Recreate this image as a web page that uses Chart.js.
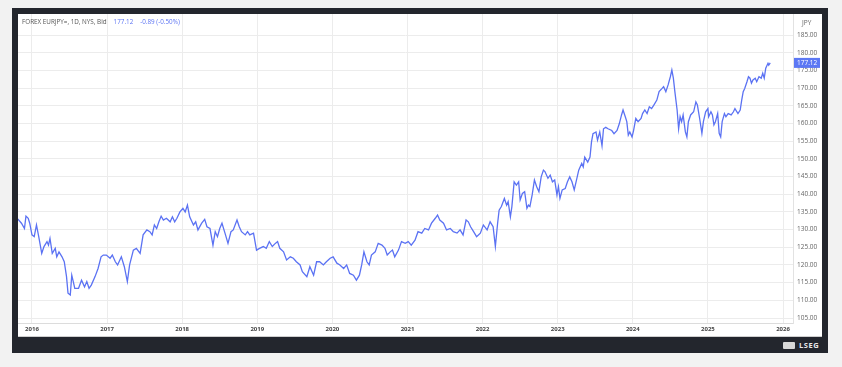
<!DOCTYPE html>
<html><head><meta charset="utf-8">
<script src="https://cdn.jsdelivr.net/npm/chart.js@4"></script>
<style>
html,body{margin:0;padding:0;background:#f2f2f2;width:842px;height:367px;overflow:hidden;font-family:"Open Sans","Noto Sans",sans-serif}
#frame{position:absolute;left:12px;top:8px;width:816px;height:345px;background:#23262d}
#panel{position:absolute;left:18px;top:14px;width:804px;height:322px;background:#fff;border-bottom:1px solid #cfcfcf}
#cv{position:absolute;left:18px;top:14px}
#hdr{position:absolute;left:22px;top:17px;font-size:6.3px;color:#555;white-space:nowrap;line-height:9px}
#hdr .b{color:#5b73f3;margin-left:7px}
#logo{position:absolute;left:783px;top:340px;height:10px;white-space:nowrap;color:#e8e8e8;font-size:7.5px;font-weight:bold;letter-spacing:0.6px;line-height:10px}
#logo .ic{display:inline-block;width:12px;height:7px;background:#d8d8d8;margin-right:4px;vertical-align:-1px;border-radius:1px}
</style></head>
<body>
<div id="frame"></div>
<div id="panel"></div>
<canvas id="cv" width="805" height="322"></canvas>
<div id="hdr">FOREX EURJPY=, 1D, NYS, Bid<span class="b">177.12</span><span class="b">-0.89 (-0.50%)</span></div>
<div id="logo"><span class="ic"></span>LSEG</div>
<script>
const years = [
2015.81,2015.86,2015.90,2015.92,2015.95,2015.97,2016.00,2016.03,2016.06,2016.09,
2016.13,2016.16,2016.20,2016.22,2016.24,2016.27,2016.31,2016.33,2016.36,2016.40,
2016.43,2016.46,2016.48,2016.51,2016.53,2016.55,2016.57,2016.62,2016.66,2016.70,
2016.73,2016.76,2016.79,2016.84,2016.88,2016.92,2016.95,2016.99,2017.04,2017.07,
2017.11,2017.14,2017.19,2017.23,2017.27,2017.30,2017.35,2017.39,2017.44,2017.48,
2017.53,2017.57,2017.60,2017.63,2017.66,2017.69,2017.72,2017.75,2017.79,2017.84,
2017.87,2017.90,2017.93,2017.97,2018.01,2018.04,2018.07,2018.10,2018.15,2018.18,
2018.21,2018.26,2018.30,2018.33,2018.37,2018.41,2018.44,2018.47,2018.50,2018.53,
2018.57,2018.61,2018.65,2018.68,2018.73,2018.76,2018.79,2018.84,2018.87,2018.90,
2018.95,2018.99,2019.03,2019.08,2019.12,2019.16,2019.20,2019.24,2019.27,2019.30,
2019.35,2019.39,2019.44,2019.48,2019.52,2019.57,2019.60,2019.66,2019.70,2019.75,
2019.79,2019.83,2019.88,2019.92,2019.97,2020.01,2020.06,2020.10,2020.15,2020.19,
2020.23,2020.28,2020.32,2020.36,2020.39,2020.42,2020.46,2020.49,2020.52,2020.57,
2020.61,2020.66,2020.70,2020.73,2020.77,2020.80,2020.83,2020.88,2020.92,2020.97,
2021.01,2021.05,2021.10,2021.14,2021.19,2021.23,2021.28,2021.32,2021.37,2021.40,
2021.43,2021.48,2021.52,2021.57,2021.61,2021.66,2021.70,2021.74,2021.78,2021.81,
2021.84,2021.88,2021.92,2021.97,2022.01,2022.06,2022.10,2022.14,2022.17,2022.20,
2022.22,2022.25,2022.29,2022.32,2022.34,2022.37,2022.39,2022.42,2022.45,2022.48,
2022.50,2022.53,2022.56,2022.59,2022.61,2022.63,2022.66,2022.69,2022.72,2022.75,
2022.78,2022.81,2022.83,2022.87,2022.90,2022.93,2022.96,2022.99,2023.01,2023.03,
2023.06,2023.10,2023.13,2023.16,2023.19,2023.22,2023.25,2023.28,2023.32,2023.34,
2023.36,2023.40,2023.43,2023.45,2023.47,2023.51,2023.53,2023.56,2023.59,2023.61,
2023.64,2023.67,2023.72,2023.75,2023.79,2023.82,2023.85,2023.87,2023.90,2023.92,
2023.94,2023.96,2023.99,2024.01,2024.04,2024.07,2024.11,2024.13,2024.16,2024.19,
2024.22,2024.25,2024.28,2024.32,2024.35,2024.39,2024.41,2024.44,2024.47,2024.50,
2024.52,2024.54,2024.56,2024.59,2024.61,2024.63,2024.65,2024.67,2024.70,2024.72,
2024.74,2024.77,2024.81,2024.84,2024.86,2024.89,2024.92,2024.94,2024.97,2025.00,
2025.01,2025.04,2025.06,2025.08,2025.10,2025.13,2025.15,2025.17,2025.19,2025.22,
2025.24,2025.27,2025.31,2025.34,2025.36,2025.40,2025.43,2025.45,2025.47,2025.49,
2025.52,2025.54,2025.56,2025.58,2025.60,2025.63,2025.65,2025.68,2025.71,2025.73,
2025.75,2025.77,2025.80,2025.81,2025.83
];
const rates = [
133.0,131.8,130.3,133.8,133.2,131.8,128.5,128.0,131.3,128.0,
123.3,125.2,126.6,125.6,127.5,123.3,124.7,122.3,123.7,122.3,
120.9,116.7,112.0,111.5,117.1,115.3,113.4,113.4,115.7,113.8,
115.3,113.4,114.3,116.7,119.0,122.3,122.8,122.8,121.9,122.8,
120.9,120.0,122.3,119.5,115.3,120.0,124.2,124.7,123.3,128.5,
129.9,129.4,128.5,131.3,130.3,132.2,133.8,132.7,133.2,132.2,
133.6,132.2,133.2,135.0,136.0,135.0,136.9,133.6,131.3,132.2,
129.9,131.8,132.9,130.8,130.3,125.6,129.4,128.0,130.3,131.8,
129.0,126.1,129.4,129.9,132.7,130.8,129.4,128.5,129.4,128.5,
129.0,124.2,124.7,125.2,124.7,126.6,125.2,126.1,126.6,124.7,
123.7,121.4,122.3,121.9,120.9,120.0,118.1,116.7,119.5,117.1,
120.9,120.9,120.0,120.9,121.9,122.3,120.5,120.0,119.0,120.0,
117.6,117.1,115.7,117.1,120.0,123.7,120.9,120.0,122.8,123.7,
126.1,125.6,124.7,122.8,123.7,124.2,122.3,124.2,126.6,126.1,
126.6,125.6,127.0,129.4,129.0,130.3,129.9,131.8,133.2,134.1,
132.7,131.8,129.9,130.3,129.4,129.0,129.9,128.5,132.7,132.2,
130.8,129.4,128.0,129.0,131.3,129.9,132.2,130.8,125.2,131.8,
135.5,136.5,138.8,136.9,137.9,133.6,136.5,143.5,142.6,143.5,
138.4,140.2,140.7,136.0,136.9,136.5,139.8,144.0,142.1,140.7,
144.9,146.8,146.4,144.5,145.4,143.5,144.0,139.8,142.1,138.8,
141.2,141.6,143.5,144.9,143.5,141.2,144.0,146.8,148.7,147.7,
150.5,149.1,150.5,154.8,157.1,157.6,155.3,157.6,153.7,158.5,
158.9,158.5,158.0,157.1,158.0,159.9,162.4,163.8,161.9,160.5,
156.7,157.6,156.2,158.0,161.4,160.5,161.4,162.8,163.8,162.8,
164.7,164.2,165.2,166.6,169.0,169.9,170.4,169.0,170.9,173.2,
175.1,172.8,169.0,163.8,158.5,161.9,160.5,162.4,157.6,156.2,
160.5,162.4,163.3,166.1,165.2,161.4,157.2,160.5,163.3,164.2,
161.9,163.3,162.4,159.6,160.5,162.8,157.2,156.2,160.5,162.8,
161.9,162.8,162.4,163.3,164.2,162.8,163.8,166.6,169.0,169.9,
171.8,173.2,172.8,171.4,172.3,172.8,171.8,173.2,172.8,174.2,
172.8,175.6,177.0,176.5,177.12
];
const yearTicks = [2016,2017,2018,2019,2020,2021,2022,2023,2024,2025,2026];
const priceTicks = [105,110,115,120,125,130,135,140,145,150,155,160,165,170,175,180,185];
const lastPrice = rates[rates.length-1];

const tagPlugin = {
  id:'tag',
  afterDraw(chart){
    const ctx = chart.ctx, a = chart.chartArea, ys = chart.scales.y;
    ctx.save();
    ctx.font = '6.5px "Open Sans", sans-serif';
    ctx.fillStyle = '#666';
    ctx.textAlign = 'left';
    ctx.textBaseline = 'middle';
    ctx.fillText('JPY', a.right + 9, 9);
    const py = ys.getPixelForValue(lastPrice);
    ctx.fillStyle = '#5c78f4';
    ctx.fillRect(a.right + 1, py - 5, 26, 10);
    ctx.fillStyle = '#ffffff';
    ctx.fillText(lastPrice.toFixed(2), a.right + 4, py + 0.5);
    ctx.restore();
  }
};

new Chart(document.getElementById('cv'), {
  type:'line',
  data:{datasets:[{
    data: years.map((x,i)=>({x:x,y:rates[i]})),
    borderColor:'#5b72f3',
    borderWidth:1.3,
    pointRadius:0,
    tension:0,
    fill:false
  }]},
  options:{
    responsive:false,
    devicePixelRatio:1,
    animation:false,
    layout:{padding:0},
    plugins:{legend:{display:false},tooltip:{enabled:false}},
    scales:{
      x:{
        type:'linear',
        min:2015.814, max:2026.133,
        afterBuildTicks(s){ s.ticks = yearTicks.map(v=>({value:v})); },
        afterFit(s){ s.height = 13; s.paddingLeft = 0; s.paddingRight = 0; },
        grid:{color:'#ececec', lineWidth:1, drawTicks:false},
        border:{display:true, color:'#dcdcdc'},
        ticks:{padding:3, color:'#444', font:{size:6, family:'"Open Sans", sans-serif', weight:'bold'}, maxRotation:0, callback:v=>String(v)}
      },
      y:{
        position:'right',
        min:103.59, max:190.94,
        afterBuildTicks(s){ s.ticks = priceTicks.map(v=>({value:v})); },
        afterFit(s){ s.width = 30; s.paddingTop = 0; s.paddingBottom = 0; },
        grid:{color:'#ececec', lineWidth:1, drawTicks:false},
        border:{display:true, color:'#e2e2e2'},
        ticks:{padding:4, color:'#666', font:{size:6.5, family:'"Open Sans", sans-serif'}, callback:v=>v.toFixed(2)}
      }
    }
  },
  plugins:[tagPlugin]
});
</script>
</body></html>
